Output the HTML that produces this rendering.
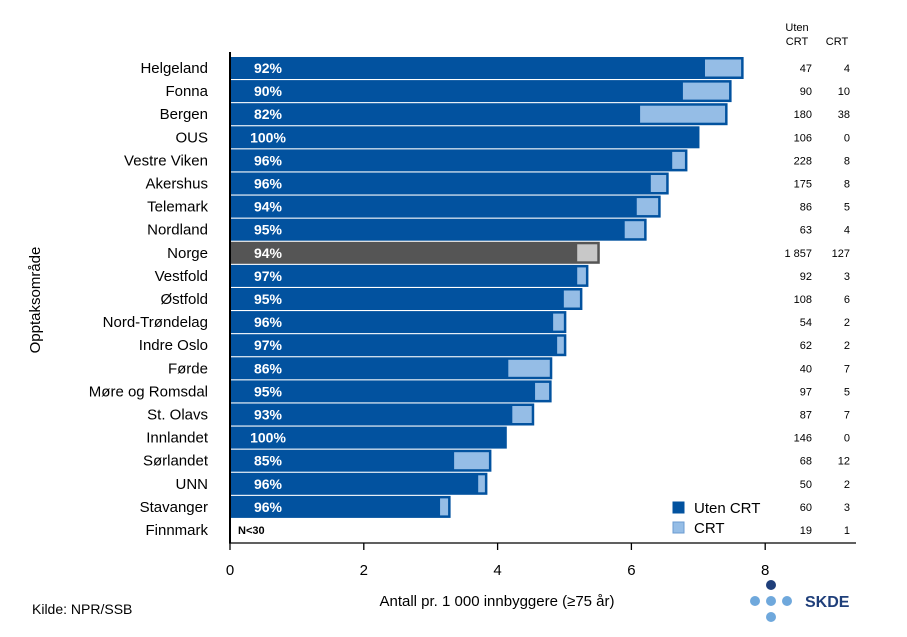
<!DOCTYPE html>
<html><head><meta charset="utf-8"><style>
body{margin:0;background:#fff}
svg{display:block;font-family:"Liberation Sans",Arial,sans-serif}
</style></head><body>
<svg id="c" width="907" height="637"></svg>
<script>
const categories=["Helgeland","Fonna","Bergen","OUS","Vestre Viken","Akershus","Telemark","Nordland","Norge","Vestfold","Østfold","Nord-Trøndelag","Indre Oslo","Førde","Møre og Romsdal","St. Olavs","Innlandet","Sørlandet","UNN","Stavanger","Finnmark"];
const utenValues=[7.10,6.77,6.13,7.01,6.61,6.29,6.08,5.90,5.19,5.19,4.99,4.83,4.89,4.16,4.56,4.22,4.13,3.35,3.71,3.14,null];
const crtValues=[0.57,0.72,1.30,0,0.22,0.26,0.35,0.32,0.33,0.16,0.27,0.19,0.13,0.65,0.24,0.32,0,0.55,0.13,0.15,null];
const pctLabels=["92%","90%","82%","100%","96%","96%","94%","95%","94%","97%","95%","96%","97%","86%","95%","93%","100%","85%","96%","96%","N<30"];
const nUten=["47","90","180","106","228","175","86","63","1 857","92","108","54","62","40","97","87","146","68","50","60","19"];
const nCrt=["4","10","38","0","8","8","5","4","127","3","6","2","2","7","5","7","0","12","2","3","1"];
const xTicks=[0,2,4,6,8];
const svg=document.getElementById('c');const NS="http://www.w3.org/2000/svg";
function el(t,a,txt){const e=document.createElementNS(NS,t);for(const k in a)e.setAttribute(k,a[k]);if(txt!=null)e.textContent=txt;svg.appendChild(e);return e;}
const x=v=>230+v*66.9;
const yc=i=>68+i*23.1;
categories.forEach((c,i)=>{
  const cy=yc(i);const norge=c==="Norge";
  let t=el('text',{x:208,y:cy+5,'text-anchor':'end','font-size':15,fill:'#000'},c);
  
  if(utenValues[i]!=null){
    const total=utenValues[i]+crtValues[i];
    let r=el('rect',{x:x(0),y:cy-10.5,width:x(total)-x(0),height:21,fill:norge?'#555':'#02529f',stroke:norge?'#555':'#02529f','stroke-width':1});
    
    if(crtValues[i]>0){
      let r2=el('rect',{x:x(utenValues[i]),y:cy-8.5,width:x(total)-x(utenValues[i])-2,height:17,fill:norge?'#c8c8c8':'#95bde6'});
      
    }
  }
  const fin=pctLabels[i]==="N<30";
  let p=el('text',{x:fin?238:268,y:cy+(fin?4:5),'text-anchor':fin?'start':'middle','font-size':fin?11:14,'font-weight':'bold',fill:fin?'#000':'#fff'},pctLabels[i]);
  
  let a=el('text',{x:812,y:cy+4,'text-anchor':'end','font-size':11,fill:'#000'},nUten[i]);
  
  let b=el('text',{x:850,y:cy+4,'text-anchor':'end','font-size':11,fill:'#000'},nCrt[i]);
  
});
let ya=el('line',{x1:230,y1:52,x2:230,y2:543,stroke:'#000','stroke-width':2});

let xa=el('line',{x1:229,y1:543,x2:856,y2:543,stroke:'#000','stroke-width':1.3});

xTicks.forEach(v=>{
  let l=el('line',{x1:x(v),y1:543,x2:x(v),y2:550,stroke:'#000','stroke-width':1.3});
  
  let t=el('text',{x:x(v),y:575,'text-anchor':'middle','font-size':15,fill:'#000'},String(v));
  
});
let xt=el('text',{x:497,y:606,'text-anchor':'middle','font-size':15},'Antall pr. 1 000 innbyggere (≥75 år)');

let yt=el('text',{x:0,y:0,'text-anchor':'middle','font-size':15,transform:'translate(40,300) rotate(-90)'},'Opptaksområde');

let h1=el('text',{x:797,y:31,'text-anchor':'middle','font-size':11},'Uten');

let h2=el('text',{x:797,y:45,'text-anchor':'middle','font-size':11},'CRT');

let h3=el('text',{x:837,y:45,'text-anchor':'middle','font-size':11},'CRT');

let lg1=el('rect',{x:673,y:502,width:11,height:11,fill:'#02529f',stroke:'#02529f'});

let lt1=el('text',{x:694,y:513,'font-size':15},'Uten CRT');

let lg2=el('rect',{x:673,y:522,width:11,height:11,fill:'#95bde6',stroke:'#6b9bd0'});

let lt2=el('text',{x:694,y:533,'font-size':15},'CRT');

let src=el('text',{x:32,y:614,'font-size':14},'Kilde: NPR/SSB');

[[771,585,'#1f3f7a'],[755,601,'#6fa8dc'],[771,601,'#6fa8dc'],[787,601,'#6fa8dc'],[771,617,'#6fa8dc']].forEach(d=>{
  let c=el('circle',{cx:d[0],cy:d[1],r:5,fill:d[2]});
  
});
let lo=el('text',{x:805,y:607,'font-size':16,'font-weight':'bold',fill:'#1f3f7a'},'SKDE');

</script>
</body></html>
